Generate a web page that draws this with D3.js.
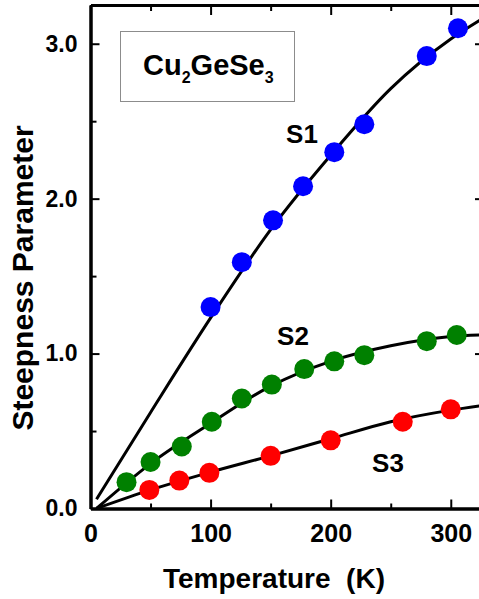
<!DOCTYPE html>
<html>
<head>
  <title>Cu2GeSe3 steepness parameter</title>
</head>
<style>
  body { margin: 0; background: #fff; }
  text { font-family: "Liberation Sans", Arial, sans-serif; font-weight: bold; fill: #000; }
  .axis path, .axis line { stroke: #000; }
  .axis path { stroke-width: 3; }
  .axis line { stroke-width: 2; }
</style>
<body>
  <script src="https://d3js.org/d3.v7.min.js"></script>
  <script>
    // measured points
    const tempS1 = [100, 126, 152, 177, 203, 228, 280, 306];
    const s1 = [1.30, 1.59, 1.86, 2.08, 2.30, 2.48, 2.92, 3.10];
    const tempS2 = [30, 50, 76, 101, 126, 151, 178, 203, 228, 280, 305];
    const s2 = [0.17, 0.30, 0.40, 0.56, 0.71, 0.80, 0.90, 0.95, 0.99, 1.08, 1.12];
    const tempS3 = [49, 74, 99, 150, 200, 260, 300];
    const s3 = [0.12, 0.18, 0.23, 0.34, 0.44, 0.56, 0.64];

    // fit curves
    const fitTemp = [5, 50, 100, 150, 200, 250, 300, 326];
    const fitS1 = [0.06, 0.62, 1.23, 1.80, 2.28, 2.71, 3.03, 3.16];
    const fitS2 = [0.0, 0.29, 0.55, 0.79, 0.95, 1.05, 1.11, 1.12];
    const fitS3 = [0.0, 0.12, 0.235, 0.34, 0.45, 0.56, 0.635, 0.665];

    const xMajor = [0, 100, 200, 300];
    const xMinor = [50, 150, 250];
    const yMajor = [0, 1, 2, 3];
    const yMinor = [0.5, 1.5, 2.5];

    const w = 479, h = 599;
    const x = d3.scaleLinear().domain([0, 326]).range([90.5, 482]);
    const y = d3.scaleLinear().domain([0, 3.25]).range([508.5, 5]);

    const svg = d3.select("body").append("svg")
      .attr("width", w).attr("height", h);

    // axes, ticks pointing inward
    svg.append("g").attr("class", "axis")
      .attr("transform", "translate(0," + y(0) + ")")
      .call(d3.axisBottom(x).tickValues(xMinor).tickSize(-5).tickSizeOuter(0).tickFormat(""));
    svg.append("g").attr("class", "axis xlab")
      .attr("transform", "translate(0," + y(0) + ")")
      .call(d3.axisBottom(x).tickValues(xMajor).tickSize(-9).tickSizeOuter(0).tickPadding(16).tickFormat(d3.format("d")));
    svg.append("g").attr("class", "axis")
      .attr("transform", "translate(0," + y(3.25) + ")")
      .call(d3.axisTop(x).tickValues(xMinor).tickSize(-6).tickSizeOuter(0).tickFormat(""));
    svg.append("g").attr("class", "axis")
      .attr("transform", "translate(0," + y(3.25) + ")")
      .call(d3.axisTop(x).tickValues(xMajor).tickSize(-10).tickSizeOuter(0).tickFormat(""));

    svg.append("g").attr("class", "axis")
      .attr("transform", "translate(" + x(0) + ",0)")
      .call(d3.axisLeft(y).tickValues(yMinor).tickSize(-6).tickSizeOuter(0).tickFormat(""));
    svg.append("g").attr("class", "axis ylab")
      .attr("transform", "translate(" + x(0) + ",0)")
      .call(d3.axisLeft(y).tickValues(yMajor).tickSize(-9).tickSizeOuter(0).tickPadding(13).tickFormat(d3.format(".1f")));
    svg.append("g").attr("class", "axis")
      .attr("transform", "translate(" + x(326) + ",0)")
      .call(d3.axisRight(y).tickValues(yMajor).tickSize(-7).tickSizeOuter(0).tickFormat(""));

    svg.selectAll(".xlab text").style("font-size", "25px");
    svg.selectAll(".ylab text").style("font-size", "23px");
    svg.selectAll(".axis").attr("font-family", null).attr("font-size", null);

    // fit lines
    const line = d3.line().x(d => x(d[0])).y(d => y(d[1])).curve(d3.curveMonotoneX);
    [fitS1, fitS2, fitS3].forEach(f => {
      svg.append("path")
        .datum(fitTemp.map((t, i) => [t, f[i]]))
        .attr("fill", "none").attr("stroke", "#000").attr("stroke-width", 3)
        .attr("d", line);
    });

    // points
    const series = [
      { t: tempS1, v: s1, c: "#0000ff" },
      { t: tempS2, v: s2, c: "#008000" },
      { t: tempS3, v: s3, c: "#ff0000" }
    ];
    series.forEach(s => {
      svg.append("g").selectAll("circle")
        .data(s.t.map((t, i) => [t, s.v[i]]))
        .join("circle")
        .attr("cx", d => x(d[0])).attr("cy", d => y(d[1]))
        .attr("r", 10).attr("fill", s.c);
    });

    // series labels
    svg.append("text").attr("x", 302).attr("y", 143).attr("text-anchor", "middle").style("font-size", "26px").text("S1");
    svg.append("text").attr("x", 293).attr("y", 345).attr("text-anchor", "middle").style("font-size", "26px").text("S2");
    svg.append("text").attr("x", 388).attr("y", 472).attr("text-anchor", "middle").style("font-size", "26px").text("S3");

    // compound box
    svg.append("rect").attr("x", 120.5).attr("y", 31.5).attr("width", 174).attr("height", 70)
      .attr("fill", "none").attr("stroke", "#8c8c8c").attr("stroke-width", 1);
    const lbl = svg.append("text").attr("x", 143).attr("y", 75).style("font-size", "29px");
    lbl.append("tspan").text("Cu");
    lbl.append("tspan").attr("dy", 8).style("font-size", "16px").text("2");
    lbl.append("tspan").attr("dy", -8).text("GeSe");
    lbl.append("tspan").attr("dy", 8).style("font-size", "16px").text("3");

    // axis titles
    svg.append("text").attr("x", 274).attr("y", 588).attr("text-anchor", "middle")
      .style("font-size", "28px").style("white-space", "pre").text("Temperature  (K)");
    svg.append("text").attr("transform", "translate(32.5,278) rotate(-90)").attr("text-anchor", "middle")
      .style("font-size", "30px").text("Steepness Parameter");
  </script>
</body>
</html>
